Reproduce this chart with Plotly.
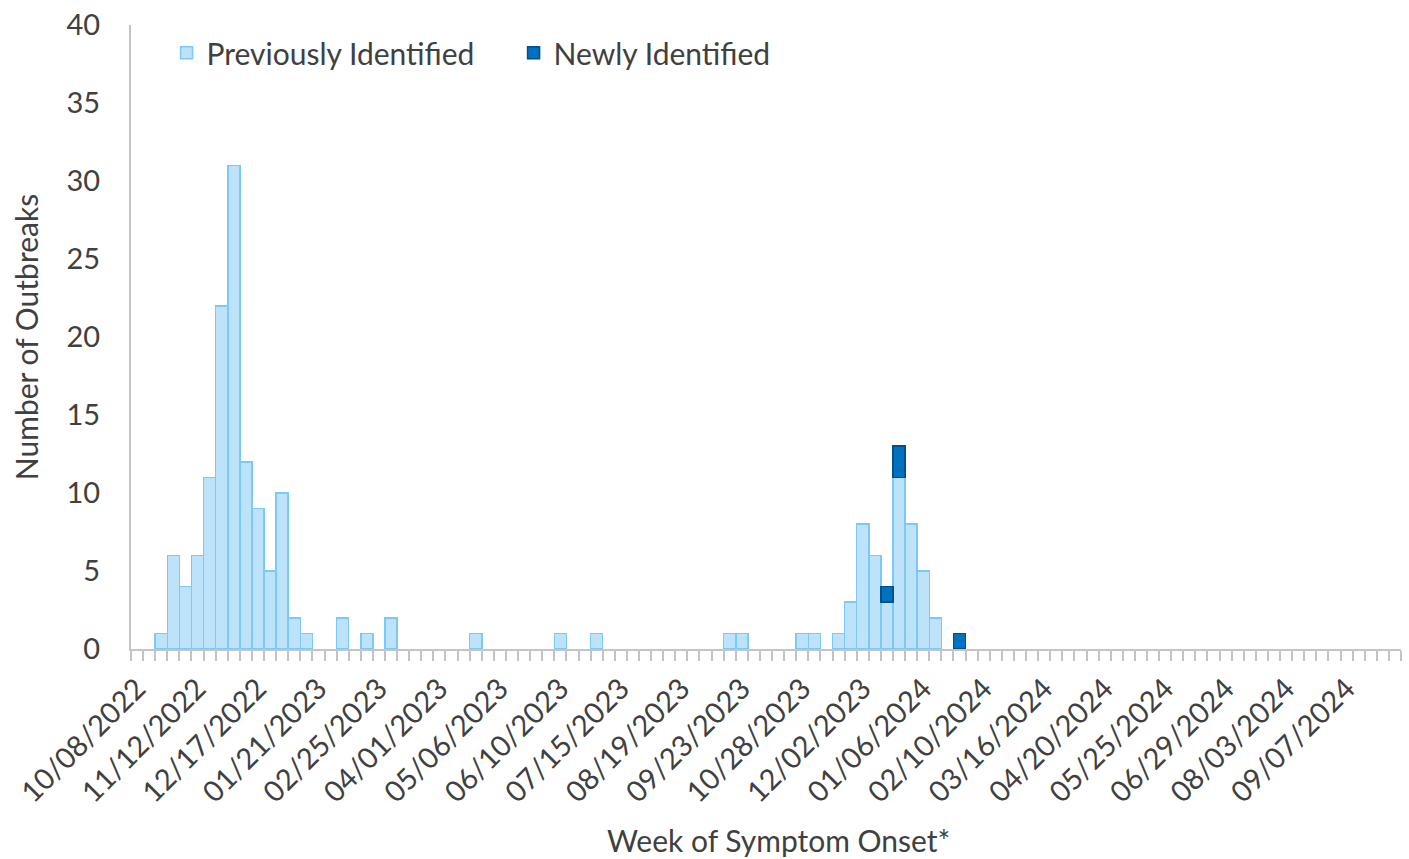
import pandas as pd
import plotly.graph_objects as go

# Weekly categories (week of symptom onset, Saturdays)
week_start = "2022-10-08"
n_weeks = 105
weeks = pd.date_range(week_start, periods=n_weeks, freq="7D")

previously_identified = [
    0, 0, 1, 6, 4, 6, 11, 22, 31, 12,
    9, 5, 10, 2, 1, 0, 0, 2, 0, 1,
    0, 2, 0, 0, 0, 0, 0, 0, 1, 0,
    0, 0, 0, 0, 0, 1, 0, 0, 1, 0,
    0, 0, 0, 0, 0, 0, 0, 0, 0, 1,
    1, 0, 0, 0, 0, 1, 1, 0, 1, 3,
    8, 6, 3, 11, 8, 5, 2, 0, 0, 0,
    0, 0, 0, 0, 0, 0, 0, 0, 0, 0,
    0, 0, 0, 0, 0, 0, 0, 0, 0, 0,
    0, 0, 0, 0, 0, 0, 0, 0, 0, 0,
    0, 0, 0, 0, 0,
]
newly_identified = [
    0, 0, 0, 0, 0, 0, 0, 0, 0, 0,
    0, 0, 0, 0, 0, 0, 0, 0, 0, 0,
    0, 0, 0, 0, 0, 0, 0, 0, 0, 0,
    0, 0, 0, 0, 0, 0, 0, 0, 0, 0,
    0, 0, 0, 0, 0, 0, 0, 0, 0, 0,
    0, 0, 0, 0, 0, 0, 0, 0, 0, 0,
    0, 0, 1, 2, 0, 0, 0, 0, 1, 0,
    0, 0, 0, 0, 0, 0, 0, 0, 0, 0,
    0, 0, 0, 0, 0, 0, 0, 0, 0, 0,
    0, 0, 0, 0, 0, 0, 0, 0, 0, 0,
    0, 0, 0, 0, 0,
]
tick_labels = [
    "10/08/2022", "11/12/2022", "12/17/2022", "01/21/2023", "02/25/2023",
    "04/01/2023", "05/06/2023", "06/10/2023", "07/15/2023", "08/19/2023",
    "09/23/2023", "10/28/2023", "12/02/2023", "01/06/2024", "02/10/2024",
    "03/16/2024", "04/20/2024", "05/25/2024", "06/29/2024", "08/03/2024",
    "09/07/2024",
]
tick_dates = pd.to_datetime(tick_labels, format="%m/%d/%Y")


def shown(values):
    # empty weeks are drawn as no bar at all
    return [v if v else None for v in values]


FONT = "Lato"
TXT = "#404040"
AX = "#C4C4C4"
week_ms = 7 * 24 * 3600 * 1000
half = pd.Timedelta(days=3.5)

fig = go.Figure()
fig.add_trace(go.Bar(
    x=weeks, y=shown(previously_identified), name="Previously Identified",
    width=week_ms,
    marker=dict(color="#BDE3FB", line=dict(color="#7CC8F7", width=1.5)),
))
fig.add_trace(go.Bar(
    x=weeks, y=shown(newly_identified), name="Newly Identified",
    width=week_ms,
    marker=dict(color="#0070C0", line=dict(color="#00508A", width=1.5)),
))

fig.update_layout(
    width=1409, height=859,
    margin=dict(l=131, r=8, t=25, b=210),
    barmode="stack",
    paper_bgcolor="white", plot_bgcolor="white",
    font=dict(family=FONT, size=30, color=TXT),
    legend=dict(orientation="h", x=0.028, y=0.997, xanchor="left", yanchor="top",
                font=dict(size=30, color=TXT), bgcolor="rgba(0,0,0,0)",
                entrywidth=302, entrywidthmode="pixels", traceorder="normal"),
    showlegend=True,
    xaxis=dict(
        type="date", automargin=False,
        range=[weeks[0] - half, weeks[-1] + half],
        tickmode="array", tickvals=tick_dates, ticktext=tick_labels,
        tickangle=-45, ticks="", showgrid=False, zeroline=False,
        showline=True, linecolor=AX, linewidth=2,
        tickfont=dict(size=29, color=TXT), ticklabelstandoff=9,
        minor=dict(ticks="outside", ticklen=10, tickwidth=1.5, tickcolor=AX,
                   tick0=weeks[0] - half, dtick=week_ms, showgrid=False),
    ),
    yaxis=dict(
        automargin=False,
        range=[0, 40], dtick=5, tick0=0, showgrid=False, zeroline=False,
        showline=True, linecolor=AX, linewidth=2, ticks="",
        tickfont=dict(size=29, color=TXT), ticklabelstandoff=23,
        ticklabeloverflow="allow",
        title=dict(text="Number of Outbreaks", font=dict(size=30, color=TXT), standoff=19),
    ),
    annotations=[dict(
        text="Week of Symptom Onset*", xref="paper", yref="paper",
        x=0.510, y=-0.306, xanchor="center", yanchor="middle",
        showarrow=False, font=dict(size=30, color=TXT),
    )],
)

fig.write_html("out.html", config={"displayModeBar": False},
               post_script="document.body.style.margin='0px';")
